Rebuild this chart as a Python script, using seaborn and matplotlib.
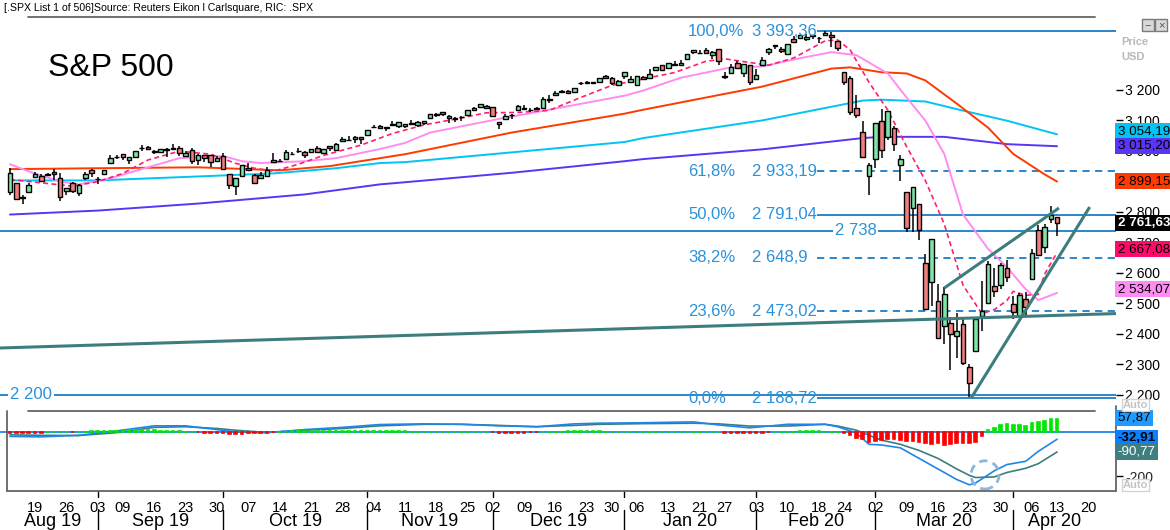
import numpy as np
import pandas as pd
import matplotlib
matplotlib.use("Agg")
import matplotlib.pyplot as plt
from matplotlib.lines import Line2D
from matplotlib.patches import Ellipse, Rectangle
import seaborn as sns

# ======================= DATA =======================
holidays = ["2019-09-02", "2019-11-28", "2019-12-25", "2020-01-01",
            "2020-01-20", "2020-02-17", "2020-04-10"]
first_day, last_axis_day = "2019-08-13", "2020-04-24"

open_aug = [2864.7, 2894.2, 2846.2, 2864.7, 2913.5, 2919.0, 2922.0, 2930.9, 2911.1, 2866.7, 2893.1, 2861.3, 2910.4, 2937.1]
open_sep = [2909.0, 2924.7, 2960.6, 2980.3, 2988.4, 2971.0, 2981.4, 3009.1, 3012.2, 2996.4, 2995.7, 3001.5, 3010.4, 3008.4, 2983.5, 3002.4, 2968.4, 2985.7, 2985.5, 2967.1]
open_oct = [2983.7, 2924.8, 2885.4, 2918.6, 2944.2, 2920.4, 2911.1, 2918.6, 2963.1, 2965.8, 2973.6, 2989.7, 3000.8, 2996.8, 2996.5, 3010.7, 2994.0, 3014.8, 3003.3, 3032.1, 3035.4, 3039.7, 3046.9]
open_nov = [3050.7, 3078.9, 3080.8, 3075.1, 3087.0, 3081.3, 3080.3, 3089.3, 3084.2, 3090.7, 3107.9, 3117.9, 3127.5, 3114.7, 3108.5, 3111.4, 3117.4, 3134.9, 3145.5, 3147.2]
open_dec = [3143.9, 3087.4, 3103.5, 3119.2, 3134.6, 3141.9, 3135.4, 3135.8, 3141.2, 3166.7, 3183.6, 3195.4, 3195.2, 3192.3, 3223.3, 3226.1, 3225.5, 3227.2, 3247.2, 3240.1, 3215.2]
open_jan = [3244.7, 3226.4, 3217.6, 3241.9, 3238.6, 3266.0, 3281.0, 3271.1, 3285.4, 3282.3, 3303.0, 3323.7, 3321.0, 3330.0, 3315.8, 3333.1, 3247.2, 3255.4, 3289.5, 3256.5, 3282.3]
open_feb = [3235.7, 3280.6, 3324.9, 3344.9, 3335.5, 3318.3, 3365.9, 3370.5, 3365.9, 3378.1, 3369.0, 3380.4, 3380.5, 3360.5, 3257.6, 3238.9, 3139.9, 3062.5, 2916.9]
open_mar = [2974.3, 3096.5, 3045.8, 3075.7, 2954.2, 2863.9, 2813.5, 2825.6, 2630.9, 2570.0, 2508.6, 2425.7, 2436.5, 2393.5, 2431.9, 2290.7, 2344.4, 2457.8, 2501.3, 2555.9, 2559.0, 2614.7]
open_apr = [2498.1, 2458.5, 2514.9, 2578.3, 2738.7, 2685.0, 2777.0, 2782.5]

high_aug = [2943.3, 2894.2, 2856.7, 2893.6, 2931.0, 2923.6, 2928.7, 2939.1, 2927.0, 2879.3, 2898.8, 2890.0, 2930.5, 2940.4]
high_sep = [2914.4, 2938.8, 2985.9, 2985.0, 2989.4, 2979.4, 3000.9, 3020.7, 3017.3, 3002.2, 3006.2, 3007.8, 3021.2, 3016.4, 2999.2, 3007.9, 2989.8, 2987.3, 2987.3, 2983.8]
high_oct = [2992.5, 2924.8, 2911.1, 2953.7, 2959.8, 2925.5, 2929.3, 2948.5, 2993.3, 2972.8, 3003.3, 2997.5, 3008.3, 3000.0, 3007.3, 3014.6, 3004.8, 3016.1, 3027.4, 3044.1, 3047.9, 3050.1, 3046.9]
high_nov = [3066.9, 3085.2, 3083.9, 3078.3, 3097.8, 3093.1, 3088.3, 3102.6, 3098.1, 3098.2, 3120.5, 3124.2, 3127.6, 3119.0, 3110.1, 3112.9, 3133.8, 3142.7, 3154.3, 3150.3]
high_dec = [3144.3, 3095.0, 3119.4, 3119.4, 3150.6, 3148.9, 3142.1, 3144.0, 3176.3, 3182.7, 3197.7, 3198.2, 3198.5, 3205.5, 3225.7, 3227.8, 3226.4, 3240.1, 3247.9, 3240.9, 3231.7]
high_jan = [3258.1, 3246.2, 3246.8, 3244.9, 3267.1, 3275.6, 3283.0, 3288.1, 3294.3, 3298.7, 3317.1, 3329.9, 3329.8, 3337.8, 3326.9, 3333.2, 3258.9, 3285.8, 3293.5, 3285.9, 3282.3]
high_feb = [3268.4, 3306.9, 3337.6, 3348.0, 3341.4, 3352.3, 3375.6, 3381.5, 3385.1, 3380.7, 3375.0, 3393.5, 3389.2, 3360.8, 3259.8, 3247.0, 3182.5, 3097.1, 2959.7]
high_mar = [3091.0, 3136.7, 3131.0, 3083.0, 2985.9, 2863.9, 2882.6, 2825.6, 2661.0, 2711.3, 2563.0, 2553.9, 2453.6, 2467.0, 2453.0, 2300.7, 2449.7, 2571.4, 2637.0, 2615.9, 2631.8, 2641.4]
high_apr = [2522.8, 2533.2, 2538.2, 2676.9, 2756.9, 2760.8, 2818.6, 2782.5]

low_aug = [2856.0, 2839.6, 2825.5, 2864.7, 2913.5, 2899.6, 2917.9, 2904.5, 2835.0, 2856.0, 2860.6, 2853.1, 2905.7, 2913.3]
low_sep = [2891.9, 2921.9, 2960.6, 2972.5, 2969.4, 2957.0, 2975.3, 3000.9, 3002.9, 2990.7, 2993.7, 2978.6, 3003.2, 2984.7, 2982.2, 2957.7, 2952.9, 2963.7, 2945.5, 2967.1]
low_oct = [2938.7, 2874.9, 2855.9, 2918.6, 2935.7, 2892.7, 2907.4, 2917.1, 2963.1, 2962.9, 2973.6, 2985.2, 2991.8, 2976.3, 2995.4, 2995.0, 2991.2, 3000.4, 3001.9, 3032.1, 3034.8, 3025.9, 3023.2]
low_nov = [3050.7, 3074.9, 3072.2, 3065.9, 3080.2, 3073.6, 3075.8, 3084.7, 3078.8, 3083.3, 3104.6, 3112.1, 3113.5, 3091.4, 3094.6, 3099.3, 3117.4, 3133.4, 3143.4, 3139.3]
low_dec = [3110.8, 3070.3, 3102.5, 3103.8, 3134.6, 3135.5, 3126.1, 3133.2, 3138.5, 3156.5, 3183.6, 3191.0, 3191.1, 3192.3, 3216.0, 3222.3, 3220.5, 3227.2, 3234.4, 3216.6, 3212.0]
low_jan = [3235.5, 3222.3, 3214.6, 3232.4, 3236.7, 3263.7, 3260.9, 3268.4, 3277.2, 3280.7, 3303.0, 3318.9, 3316.6, 3320.0, 3301.9, 3281.5, 3234.5, 3253.2, 3271.9, 3242.8, 3214.7]
low_feb = [3235.7, 3280.6, 3313.8, 3334.4, 3322.1, 3317.8, 3355.6, 3369.7, 3360.5, 3366.2, 3355.6, 3378.8, 3341.0, 3328.5, 3214.7, 3118.8, 3109.0, 2977.4, 2855.8]
low_mar = [2945.2, 2976.6, 3034.4, 2999.8, 2901.5, 2734.4, 2734.0, 2707.2, 2478.9, 2492.4, 2380.9, 2367.0, 2280.5, 2319.8, 2295.6, 2191.9, 2344.4, 2407.5, 2500.7, 2520.0, 2545.3, 2571.2]
low_apr = [2447.5, 2455.8, 2460.0, 2574.6, 2657.7, 2663.3, 2762.4, 2721.2]

close_aug = [2926.3, 2840.6, 2847.6, 2888.7, 2923.7, 2900.5, 2924.4, 2923.0, 2847.1, 2878.4, 2869.2, 2887.9, 2924.6, 2926.5]
close_sep = [2906.3, 2937.8, 2976.0, 2978.7, 2978.4, 2979.4, 3000.9, 3009.6, 3007.4, 2998.0, 3005.7, 3006.7, 3006.8, 2992.1, 2991.8, 2966.6, 2984.9, 2977.6, 2961.8, 2976.7]
close_oct = [2940.3, 2887.6, 2910.6, 2952.0, 2938.8, 2893.1, 2919.4, 2938.1, 2970.3, 2966.2, 2995.7, 2989.7, 2998.0, 2986.2, 3006.7, 2996.0, 3004.5, 3010.3, 3022.6, 3039.4, 3036.9, 3046.8, 3037.6]
close_nov = [3066.9, 3078.3, 3074.6, 3076.8, 3085.2, 3093.1, 3087.0, 3091.8, 3094.0, 3096.6, 3120.5, 3122.0, 3120.2, 3108.5, 3103.5, 3110.3, 3133.6, 3140.5, 3153.6, 3141.0]
close_dec = [3113.9, 3093.2, 3112.8, 3117.4, 3145.9, 3136.0, 3132.5, 3141.6, 3168.6, 3168.8, 3191.5, 3192.5, 3191.1, 3205.4, 3221.2, 3224.0, 3223.4, 3239.9, 3240.0, 3221.3, 3230.8]
close_jan = [3257.9, 3234.9, 3246.3, 3237.2, 3253.1, 3274.7, 3265.4, 3288.1, 3283.2, 3289.3, 3316.8, 3329.6, 3320.8, 3321.8, 3325.5, 3295.5, 3243.6, 3276.2, 3273.4, 3283.7, 3225.5]
close_feb = [3248.9, 3297.6, 3334.7, 3345.8, 3327.7, 3352.1, 3357.8, 3379.5, 3373.9, 3380.2, 3370.3, 3386.2, 3373.2, 3337.8, 3225.9, 3128.2, 3116.4, 2978.8, 2954.2]
close_mar = [3090.2, 3003.4, 3130.1, 3023.9, 2972.4, 2746.6, 2882.2, 2741.4, 2480.6, 2711.0, 2386.1, 2529.2, 2398.1, 2409.4, 2304.9, 2237.4, 2447.3, 2475.6, 2630.1, 2541.5, 2626.7, 2584.6]
close_apr = [2470.5, 2526.9, 2488.7, 2663.7, 2659.4, 2750.0, 2789.8, 2761.6]

# moving averages (trading-day index, value)
ma_fast_idx = [0, 5, 10, 14, 18, 22, 27, 32, 36, 39, 42, 46, 50, 56, 61, 66, 71, 76, 81, 86, 91, 96, 101, 106, 111, 114, 118, 121, 125, 130, 132, 134, 137, 140, 143, 146, 149, 152, 155, 157, 159, 160, 162, 164, 165, 167]
ma_fast_val = [2906, 2895, 2884, 2899, 2926, 2970, 2999, 2989, 2959, 2943, 2933, 2956, 2985, 3019, 3057, 3085, 3104, 3125, 3126, 3133, 3175, 3215, 3236, 3257, 3294, 3302, 3290, 3281, 3305, 3361, 3364, 3331, 3225, 3134, 3014, 2902, 2760, 2559, 2466, 2479, 2509, 2539, 2526, 2529, 2595, 2667.08]
sma20_idx = [0, 4, 8, 11, 16, 27, 34, 37, 40, 47, 52, 59, 63, 67, 78, 86, 98, 101, 107, 115, 120, 125, 131, 135, 140, 143, 146, 149, 152, 156, 159, 162, 164, 167]
sma20_val = [2956, 2925, 2900, 2890, 2910, 2976, 2983, 2966, 2960, 2966, 2976, 3006, 3026, 3060, 3105, 3135, 3181, 3198, 3240, 3274, 3277, 3300, 3324, 3314, 3254, 3175, 3099, 2990, 2791, 2678, 2618, 2546, 2510, 2534.07]
sma50_idx = [0, 14, 30, 38, 43, 51, 59, 63, 80, 98, 101, 120, 131, 134, 139, 143, 146, 151, 156, 160, 165, 167]
sma50_val = [2940, 2943, 2946, 2940, 2936, 2950, 2976, 2989, 3060, 3122, 3135, 3211, 3270, 3274, 3258, 3254, 3231, 3155, 3076, 2990, 2923, 2899.15]
sma100_idx = [0, 14, 30, 42, 52, 59, 63, 80, 98, 101, 120, 136, 139, 146, 152, 159, 167]
sma100_val = [2903, 2903, 2916, 2926, 2943, 2960, 2963, 2995, 3029, 3042, 3100, 3165, 3168, 3162, 3132, 3099, 3054.19]
sma200_idx = [0, 14, 30, 47, 59, 63, 80, 98, 101, 120, 136, 139, 149, 159, 167]
sma200_val = [2791, 2804, 2827, 2857, 2890, 2897, 2928, 2966, 2973, 3005, 3042, 3046, 3046, 3022, 3015.20]

# Fibonacci retracement and support lines
fib_levels = [3393.36, 2933.19, 2791.04, 2648.9, 2473.02, 2188.72]
fib_pct = ["100,0%", "61,8%", "50,0%", "38,2%", "23,6%", "0,0%"]
fib_txt = ["3 393,36", "2 933,19", "2 791,04", "2 648,9", "2 473,02", "2 188,72"]
fib_dashed = [False, True, False, True, True, False]
support_levels = [2738, 2200]
support_txt = ["2 738", "2 200"]

# trend lines (trading-day index, price)
trend_long_x, trend_long_y = [-1.6, 176.4], [2353, 2466]
wedge_low_x, wedge_low_y = [153.3, 172.2], [2188.9, 2815.7]
wedge_up_x, wedge_up_y = [149.0, 167.3], [2549.9, 2812.5]

# last-value tags
tag_text = ["3 054,19", "3 015,20", "2 899,15", "2 761,63", "2 667,08", "2 534,07"]
price_ticks = [2200, 2300, 2400, 2500, 2600, 2700, 2800, 2900, 3000, 3100, 3200]

# MACD panel
macd_idx = [0, 5, 11, 17, 23, 28, 33, 36, 41, 47, 53, 59, 66, 72, 78, 84, 90, 94, 101, 109, 113, 118, 124, 130, 132, 135, 137, 139, 142, 145, 148, 151, 153, 154, 157, 159, 162, 164, 167]
macd_val = [-20, -22, -15, 5, 28, 28, 11, 0, -3, 11, 21, 34, 37, 35, 28, 24, 37, 40, 42, 46, 32, 19, 35, 35, 24, -5, -56, -59, -72, -120, -168, -216, -240, -232, -176, -148, -133, -88, -32.91]
signal_val = [-13, -15, -16, -3, 21, 24, 16, 8, -2, 8, 16, 28, 35, 35, 30, 24, 30, 35, 38, 40, 37, 27, 27, 35, 27, 8, -15, -37, -56, -84, -120, -168, -197, -207, -204, -184, -165, -144, -90.77]
hist_val = ([-4, -6, -6, -5, -3, -3, 0, 0, 0, 0, -2, 0, 0]
            + [3, 3, 4, 5, 6, 7, 8, 8, 8, 7, 7, 6, 6, 4, 3, 0, 0]
            + [-2, -3, -4, -5, -6, -8, -8, -7, -6, -5, -4, -3, -2, 0]
            + [2, 3, 3, 4, 4, 4, 4, 4, 5, 5, 5, 5, 5, 6, 5, 4, 4, 3, 3, 3, 2]
            + [0] * 12
            + [-2, -3, -3, -3, -3, -3, -2, -2]
            + [0, 0, 0]
            + [2, 3, 3, 3, 3, 3, 3, 2]
            + [0] * 13
            + [2, 2, 0, 0, 0]
            + [-3, -3, -3, -4, -4, -3, -3, -2]
            + [0, 0, 0]
            + [2, 3, 3, 3, 3, 2]
            + [0, 0]
            + [-5, -15, -25, -32, -45, -40, -36, -33, -31, -36, -40, -43, -47, -50, -53, -50, -57, -54, -52, -50, -48, -45, -18]
            + [9, 20, 31, 38, 31, 34, 28, 40, 45, 50, 58, 57.87])
macd_tags = ["57,87", "-32,91", "-90,77"]

# ======================= LAYOUT / STYLE =======================
W, H = 1170, 530
X_ORIGIN, PX_PER_DAY = 10.0, 6.27
P_TOP_PX, P_BOT_PX = 17, 407
M_TOP_PX, M_BOT_PX = 411, 491
RIGHT_PX = 1116

GREEN_C, RED_C = "#80E4A6", "#F27E7E"
C_FAST, C_20, C_50, C_100, C_200 = "#FF1F6E", "#FF8CF2", "#FF3A00", "#00C4F4", "#5A35F5"
LINE_BLUE, TXT_BLUE, TEAL = "#1A7DC6", "#2A92DA", "#3E7D7D"
MACD_BLUE, HIST_G, HIST_R = "#1E86E8", "#00E800", "#FF0000"
FRAME = "#646464"

sns.set_theme(style="white")
plt.rcParams["font.family"] = ["Liberation Sans", "DejaVu Sans"]

def fx(px):
    return px / W

def fy(py):
    return 1 - py / H

def px2idx(px):
    return (px - X_ORIGIN) / PX_PER_DAY

fig = plt.figure(figsize=(W / 100, H / 100), dpi=100)
fig.patch.set_facecolor("white")
ax = fig.add_axes([0, fy(P_BOT_PX), fx(RIGHT_PX), fy(P_TOP_PX) - fy(P_BOT_PX)])
axm = fig.add_axes([0, fy(M_BOT_PX), fx(RIGHT_PX), fy(M_TOP_PX) - fy(M_BOT_PX)])
for a in (ax, axm):
    a.set_facecolor("none")
    for s in a.spines.values():
        s.set_visible(False)

xlim = (px2idx(0), px2idx(RIGHT_PX))
p_top = 3393.36 + (31 - P_TOP_PX) / 0.3047
p_bot = 3393.36 - (P_BOT_PX - 31) / 0.3047

# ---------------- price panel ----------------
o = np.array(open_aug + open_sep + open_oct + open_nov + open_dec + open_jan + open_feb + open_mar + open_apr)
h = np.array(high_aug + high_sep + high_oct + high_nov + high_dec + high_jan + high_feb + high_mar + high_apr)
l = np.array(low_aug + low_sep + low_oct + low_nov + low_dec + low_jan + low_feb + low_mar + low_apr)
c = np.array(close_aug + close_sep + close_oct + close_nov + close_dec + close_jan + close_feb + close_mar + close_apr)
n = len(c)
idx = np.arange(n)

fib_start = px2idx(817)
for lev, dashed in zip(fib_levels, fib_dashed):
    ax.hlines(lev, fib_start, xlim[1], color=LINE_BLUE, lw=1.3,
              linestyles=(0, (4, 3)) if dashed else "solid", zorder=1)
for lev, pct, txt in zip(fib_levels, fib_pct, fib_txt):
    ax.text(px2idx(688), lev, pct, color=TXT_BLUE, fontsize=12, va="center", ha="left", zorder=6)
    ax.text(px2idx(752), lev, txt, color=TXT_BLUE, fontsize=12, va="center", ha="left", zorder=6)
for lev in support_levels:
    ax.hlines(lev, xlim[0], xlim[1], color=LINE_BLUE, lw=1.3, zorder=1)
ax.text(px2idx(835), support_levels[0], support_txt[0], color=TXT_BLUE, fontsize=12,
        va="center", ha="left", zorder=6,
        bbox=dict(boxstyle="square,pad=0.1", fc="white", ec="none"))
ax.text(px2idx(10), support_levels[1], support_txt[1], color=TXT_BLUE, fontsize=12,
        va="center", ha="left", zorder=6,
        bbox=dict(boxstyle="square,pad=0.15", fc="white", ec="none"))

for xs, ys, col, ls, lw in [(sma200_idx, sma200_val, C_200, "-", 1.4),
                            (sma100_idx, sma100_val, C_100, "-", 1.4),
                            (sma50_idx, sma50_val, C_50, "-", 1.4),
                            (sma20_idx, sma20_val, C_20, "-", 1.4),
                            (ma_fast_idx, ma_fast_val, C_FAST, (0, (3, 2)), 1.2)]:
    sns.lineplot(x=np.array(xs, float), y=np.array(ys, float), ax=ax, color=col,
                 linestyle=ls, linewidth=lw, estimator=None, sort=False, legend=False, zorder=2)

up = c >= o
body_b = np.minimum(o, c)
body_h = np.maximum(np.abs(c - o), 0.6)
ax.vlines(idx, l, h, color="black", lw=1.1, zorder=3)
ax.bar(idx[up], body_h[up], bottom=body_b[up], width=0.74, color=GREEN_C,
       edgecolor="black", linewidth=1.0, zorder=4)
ax.bar(idx[~up], body_h[~up], bottom=body_b[~up], width=0.74, color=RED_C,
       edgecolor="black", linewidth=1.0, zorder=4)

for xs, ys in [(trend_long_x, trend_long_y), (wedge_low_x, wedge_low_y), (wedge_up_x, wedge_up_y)]:
    ax.plot(xs, ys, color=TEAL, lw=2.2, solid_capstyle="butt", zorder=5)

ax.set_xlim(*xlim)
ax.set_ylim(p_bot, p_top)
ax.set_xticks([])
ax.set_xlabel("")
ax.set_ylabel("")
ax.yaxis.tick_right()
ax.set_yticks(price_ticks)
ax.set_yticklabels([f"{v:,}".replace(",", " ") for v in price_ticks])
ax.tick_params(axis="y", which="major", right=True, left=False, labelright=True, labelleft=False,
               direction="out", length=5, width=1, color="black", pad=1.5, labelsize=10, labelcolor="black")

tag_bg = [C_100, C_200, C_50, "black", "#FF0A6A", C_20]
tag_fg = ["black", "black", "black", "white", "black", "black"]
tag_y_px = [131, 146, 181, 223, 249, 289]
for txt, bg, fg, ypx in zip(tag_text, tag_bg, tag_fg, tag_y_px):
    fig.text(fx(1117.5), fy(ypx), txt, color=fg, fontsize=9.6, va="center", ha="left",
             weight="bold" if bg == "black" else "normal", zorder=10,
             bbox=dict(boxstyle="square,pad=0.16", fc=bg, ec="none"))

# ---------------- MACD panel ----------------
hist = np.array(hist_val, float)
assert len(hist) == n, len(hist)
axm.axhline(0, color=MACD_BLUE, lw=1.3, zorder=1)
hcol = np.where(hist >= 0, HIST_G, HIST_R)
axm.bar(idx, hist, width=0.42, color=hcol, edgecolor=hcol, linewidth=1.2, zorder=3)
sns.lineplot(x=np.array(macd_idx, float), y=np.array(signal_val, float), ax=axm, color=TEAL,
             linewidth=1.2, estimator=None, sort=False, legend=False, zorder=2)
sns.lineplot(x=np.array(macd_idx, float), y=np.array(macd_val, float), ax=axm, color=MACD_BLUE,
             linewidth=1.2, estimator=None, sort=False, legend=False, zorder=2)
axm.add_patch(Ellipse((px2idx(985), -195), width=28 / PX_PER_DAY, height=128, fill=False,
                      ec="#8DB4E2", lw=2, ls=(0, (3, 2)), zorder=6))
axm.set_xlim(*xlim)
axm.set_ylim(-(M_BOT_PX - 432) / 0.22, (432 - M_TOP_PX) / 0.22)
axm.set_xlabel("")
axm.set_ylabel("")
axm.yaxis.tick_right()
axm.set_yticks([-200])
axm.set_yticklabels(["-200"])
axm.tick_params(axis="y", right=True, left=False, labelright=True, labelleft=False,
                direction="out", length=5, width=1, color="black", pad=1.5, labelsize=10)

cal = pd.bdate_range(first_day, last_axis_day)
cal = cal[~cal.isin(pd.to_datetime(holidays))]
week_pos = [i for i in range(1, len(cal)) if cal[i].isocalendar()[1] != cal[i - 1].isocalendar()[1]]
axm.set_xticks(week_pos)
axm.set_xticklabels([f"{cal[i].day:02d}" for i in week_pos])
axm.tick_params(axis="x", bottom=True, length=0, pad=7, labelsize=10.5, labelcolor="black")

mt_bg = ["#1E9BFF", "#0A80FF", "#3F7F7F"]
mt_fg = ["black", "black", "white"]
for ypx, lab, bg, fg in zip([418, 438, 452], macd_tags, mt_bg, mt_fg):
    fig.text(fx(1117.5), fy(ypx), lab, color=fg, fontsize=9.6, va="center", ha="left", zorder=10,
             weight="bold" if lab == "-32,91" else "normal",
             bbox=dict(boxstyle="square,pad=0.16", fc=bg, ec="none"))

# month boundaries & labels
month_pos = [i for i in range(1, len(cal)) if cal[i].month != cal[i - 1].month]
bounds_px = [7] + [X_ORIGIN + i * PX_PER_DAY for i in month_pos] + [1095]
month_names = [cal[0].strftime("%b %y")] + [cal[i].strftime("%b %y") for i in month_pos]

def fig_line(x0, y0, x1, y1, color=FRAME, lw=1.3):
    fig.add_artist(Line2D([fx(x0), fx(x1)], [fy(y0), fy(y1)], color=color, lw=lw,
                          transform=fig.transFigure, zorder=9))

for bx in bounds_px[1:-1]:
    fig_line(bx, 491, bx, 497, color="black", lw=1.0)
    fig_line(bx, 510, bx, 530, color="black", lw=1.0)
for k, name in enumerate(month_names):
    cx = (bounds_px[k] + bounds_px[k + 1]) / 2
    fig.text(fx(cx), fy(521), name, fontsize=13, ha="center", va="center", color="black")

# frames
fig_line(28, 17, 1095, 17)
fig_line(28, 411, 1095, 411)
fig_line(7, 411, 7, 491)
fig_line(7, 491, 1116, 491)
fig_line(1116, 406, 1116, 491)

# header, title, misc
fig.text(fx(4), fy(8), "[.SPX List 1 of 506]Source: Reuters Eikon l Carlsquare, RIC: .SPX",
         fontsize=7.6, va="center", ha="left", color="black")
fig.text(fx(48), fy(68), "S&P 500", fontsize=23, va="center", ha="left", color="black")
fig.text(fx(1121), fy(42), "Price", fontsize=8, va="center", ha="left", color="#B8B8B8", weight="bold")
fig.text(fx(1121), fy(57), "USD", fontsize=8, va="center", ha="left", color="#B8B8B8", weight="bold")
for ypx in (405, 485):
    fig.text(fx(1123), fy(ypx), "Auto", fontsize=8, va="center", ha="left", color="#C4C4C4",
             weight="bold", zorder=10,
             bbox=dict(boxstyle="square,pad=0.1", fc="white", ec="#D4D4D4", lw=1))
for x0, sym in ((1142, "\u2212"), (1155, "\u00d7")):
    fig.add_artist(Rectangle((fx(x0), fy(31)), 12 / W, 12 / H, transform=fig.transFigure,
                             fc="#D9D9D9", ec="#7A7A7A", lw=1, zorder=9))
    fig.text(fx(x0 + 6), fy(25), sym, fontsize=8, ha="center", va="center", color="#555555", zorder=10)

fig.savefig("out.png", dpi=100, facecolor="white")
